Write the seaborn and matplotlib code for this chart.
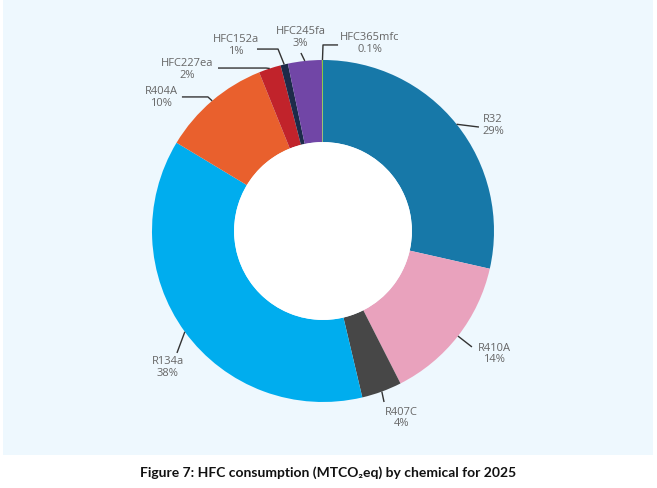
import matplotlib
matplotlib.use("Agg")
import matplotlib.pyplot as plt
from matplotlib.patches import Rectangle, Circle
import numpy as np
import seaborn as sns

# data (share of 2025 HFC consumption, MTCO2eq)
chemicals = ['R32', 'R410A', 'R407C', 'R134a', 'R404A',
             'HFC227ea', 'HFC152a', 'HFC245fa', 'HFC365mfc']
shares = [28.6, 14.0, 3.8, 37.4, 10.3, 2.1, 0.7, 3.2, 0.1]
pct_labels = ['29%', '14%', '4%', '38%', '10%', '2%', '1%', '3%', '0.1%']

colors = ['#1778a8', '#e9a2bd', '#474747', '#00adee', '#e9602d',
          '#c1232b', '#1d2b49', '#7146a6', '#8dc63f']

# label layout: text centre, line end, optional knee (pie radius = 1)
label_pos = [(0.994, 0.617), (1.000, -0.719), (0.459, -1.094), (-0.909, -0.798),
             (-0.947, 0.781), (-0.792, 0.944), (-0.509, 1.085), (-0.132, 1.132),
             (0.272, 1.096)]
line_end = [(0.912, 0.608), (0.871, -0.678), (0.357, -1.000), (-0.854, -0.713),
            (-0.825, 0.784), (-0.614, 0.953), (-0.386, 1.064), (-0.129, 1.041),
            (0.088, 1.088)]
knees = [None, None, None, None,
         (-0.673, 0.784), (-0.333, 0.953), (-0.263, 1.064), None,
         (0.000, 1.088)]

sns.set_theme(style="white")
plt.rcParams['font.family'] = ['Open Sans', 'DejaVu Sans']

W, H = 657, 488
cx, cy, R = 323, 231, 171
fig = plt.figure(figsize=(W / 100, H / 100), dpi=100)
fig.patch.set_facecolor('white')
fig.add_artist(Rectangle((3 / W, (H - 455) / H), 650 / W, 455 / H,
                         transform=fig.transFigure, facecolor='#eef8fe',
                         edgecolor='none', zorder=0))

ax = fig.add_axes([0, 0, 1, 1])
ax.set_facecolor('none')

wedges, _ = ax.pie(shares, colors=sns.color_palette(colors), startangle=90,
                   counterclock=False, radius=1,
                   wedgeprops=dict(width=0.48, edgecolor='none'))
ax.add_patch(Circle((0, 0), 0.52, facecolor='white', edgecolor='none'))

for w, name, pct, tp, le, kn in zip(wedges, chemicals, pct_labels,
                                    label_pos, line_end, knees):
    ang = np.deg2rad((w.theta1 + w.theta2) / 2)
    start = (np.cos(ang), np.sin(ang))
    pts = [start] + ([kn] if kn else []) + [le]
    xs, ys = zip(*pts)
    ax.plot(xs, ys, color='#333333', lw=1.0, solid_capstyle='butt')
    ax.text(tp[0], tp[1], f"{name}\n{pct}", ha='center', va='center',
            fontsize=8, color='#666666', linespacing=1.1)

# pie() resets the limits, so set them afterwards
ax.set_xlim(-cx / R, (W - cx) / R)
ax.set_ylim((cy - H) / R, cy / R)
ax.set_aspect('equal')
ax.axis('off')

fig.text(328 / W, 1 - 473 / H,
         "Figure 7: HFC consumption (MTCO\u2082eq) by chemical for 2025",
         ha='center', va='center', fontsize=10, fontweight='bold',
         color='#111111', family=['Lato', 'DejaVu Sans'])

fig.savefig('out.png', dpi=100)
